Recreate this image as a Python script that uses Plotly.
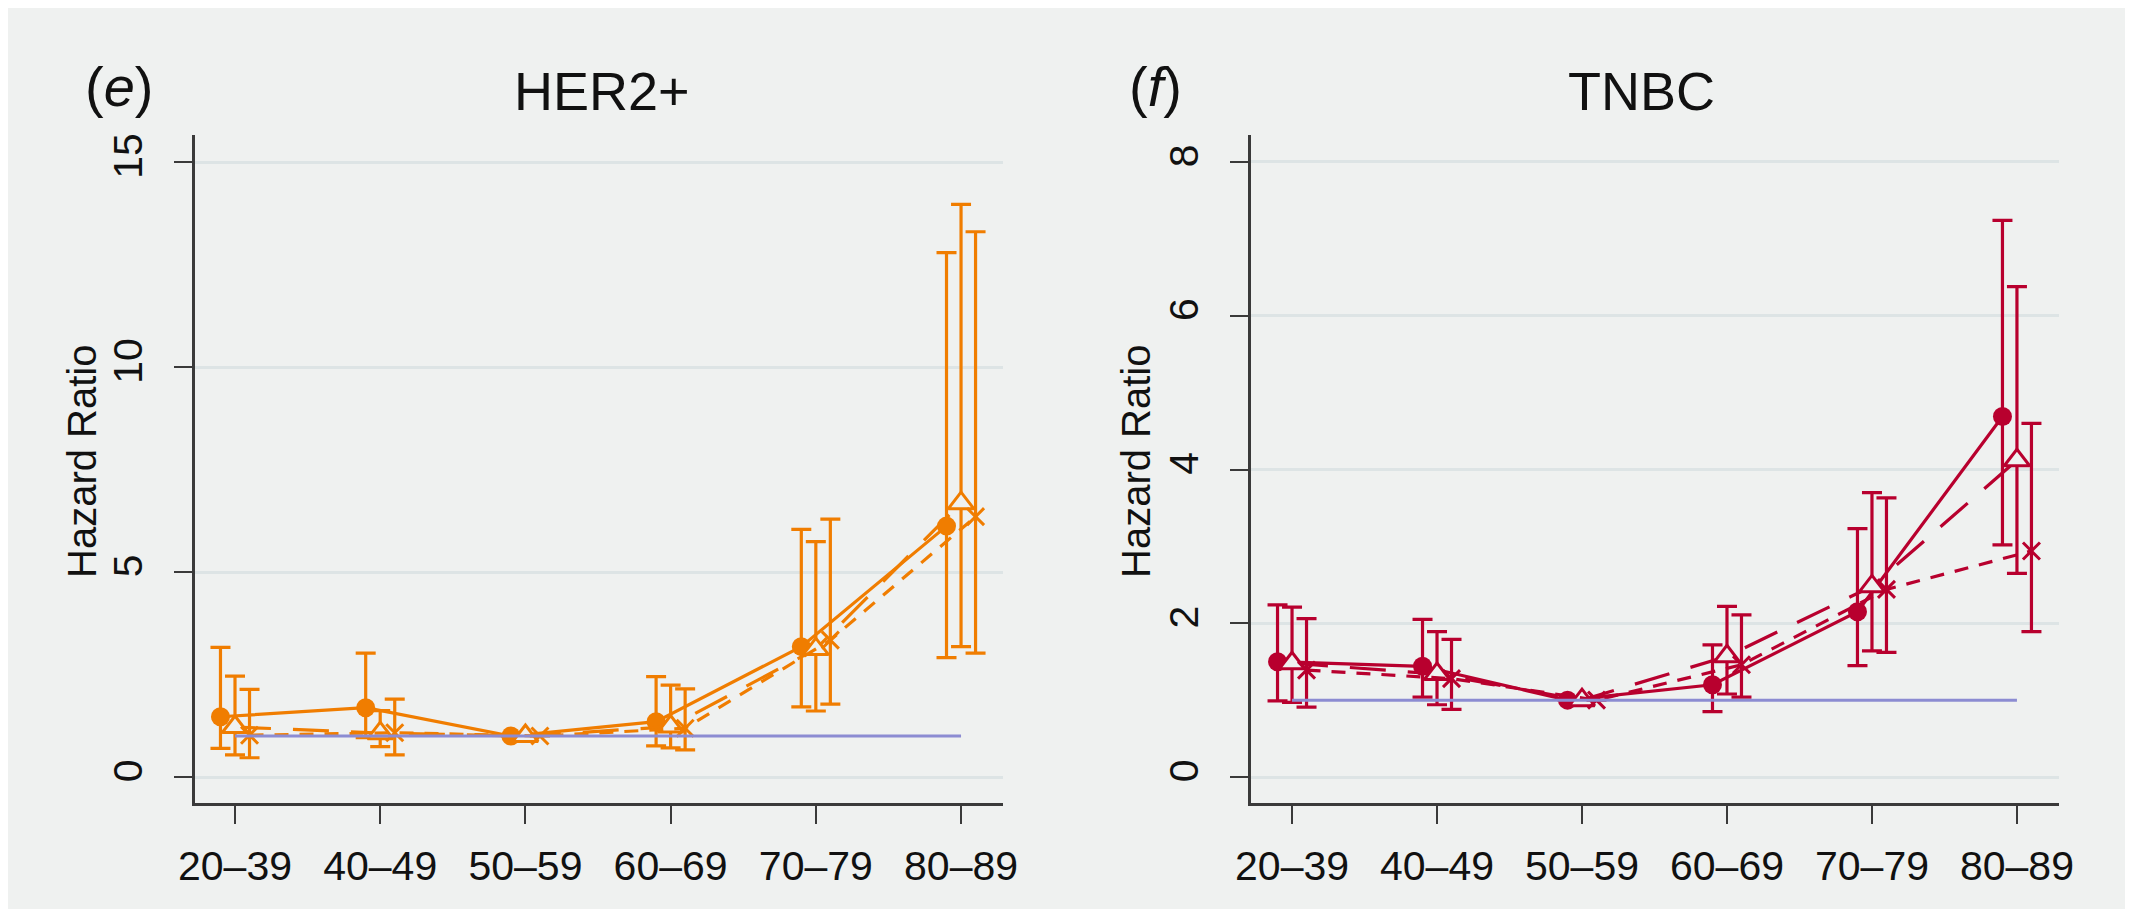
import plotly.graph_objects as go

W, H = 2133, 909
OFF_X, OFF_Y = 8, 8  # page body margin offset

# ---------------- data ----------------
age_groups = ["20–39", "40–49", "50–59", "60–69", "70–79", "80–89"]

# HER2+ panel (e)
her2_a_hr = [1.47, 1.69, 1.00, 1.35, 3.18, 6.12]
her2_a_lo = [0.70, 0.96, 1.00, 0.76, 1.71, 2.91]
her2_a_hi = [3.16, 3.02, 1.00, 2.45, 6.04, 12.79]
her2_b_hr = [1.22, 1.07, 1.00, 1.23, 3.12, 6.68]
her2_b_lo = [0.54, 0.74, 1.00, 0.71, 1.61, 3.18]
her2_b_hi = [2.46, 1.62, 1.00, 2.24, 5.74, 13.97]
her2_c_hr = [1.02, 1.08, 1.00, 1.19, 3.34, 6.35]
her2_c_lo = [0.47, 0.54, 1.00, 0.66, 1.78, 3.02]
her2_c_hi = [2.14, 1.90, 1.00, 2.15, 6.29, 13.30]

# TNBC panel (f)
tnbc_a_hr = [1.50, 1.44, 1.00, 1.20, 2.15, 4.69]
tnbc_a_lo = [0.99, 1.04, 1.00, 0.85, 1.45, 3.02]
tnbc_a_hi = [2.24, 2.05, 1.00, 1.72, 3.23, 7.24]
tnbc_b_hr = [1.48, 1.34, 1.00, 1.57, 2.48, 4.12]
tnbc_b_lo = [0.97, 0.94, 1.00, 1.08, 1.64, 2.65]
tnbc_b_hi = [2.21, 1.89, 1.00, 2.22, 3.70, 6.38]
tnbc_c_hr = [1.39, 1.28, 1.00, 1.46, 2.44, 2.94]
tnbc_c_lo = [0.91, 0.88, 1.00, 1.04, 1.62, 1.89]
tnbc_c_hi = [2.06, 1.79, 1.00, 2.11, 3.63, 4.60]

reference_hr = [1.0, 1.0]

her2_yticks = [0, 5, 10, 15]
tnbc_yticks = [0, 2, 4, 6, 8]

# ---------------- style ----------------
BG = "#eff1f0"
GRID = "#dde4e5"
AXIS = "#3a3a3a"
ORANGE = "#f07d00"
CRIMSON = "#b8002e"
REFCOL = "#8c8cd2"
FONT = "Liberation Sans, Arial, Helvetica, sans-serif"

fig = go.Figure()

def px_x(p):
    return (p - OFF_X) / W

def px_y(p):
    return 1 - (p - OFF_Y) / H

series_style = [
    dict(offset=-0.1, dash="solid", symbol="circle", size=19),
    dict(offset=0.0, dash="36px,22px", symbol="triangle-up", size=22),
    dict(offset=0.1, dash="14px,11px", symbol="x-thin", size=17),
]

panels = [
    dict(xa="x", ya="y", color=ORANGE,
         data=[(her2_a_hr, her2_a_lo, her2_a_hi),
               (her2_b_hr, her2_b_lo, her2_b_hi),
               (her2_c_hr, her2_c_lo, her2_c_hi)]),
    dict(xa="x2", ya="y2", color=CRIMSON,
         data=[(tnbc_a_hr, tnbc_a_lo, tnbc_a_hi),
               (tnbc_b_hr, tnbc_b_lo, tnbc_b_hi),
               (tnbc_c_hr, tnbc_c_lo, tnbc_c_hi)]),
]

for p in panels:
    col = p["color"]
    for (hr, lo, hi), st in zip(p["data"], series_style):
        xs = [i + st["offset"] for i in range(len(age_groups))]
        if st["symbol"] == "circle":
            marker = dict(symbol="circle", size=st["size"], color=col,
                          line=dict(width=0))
        elif st["symbol"] == "triangle-up":
            marker = dict(symbol="triangle-up", size=st["size"], color=BG,
                          line=dict(color=col, width=3))
        else:
            marker = dict(symbol="x-thin", size=st["size"], color=col,
                          line=dict(color=col, width=3))
        fig.add_trace(go.Scatter(
            x=xs, y=hr, mode="lines+markers",
            xaxis=p["xa"], yaxis=p["ya"],
            line=dict(color=col, width=3.2, dash=st["dash"]),
            marker=marker,
            error_y=dict(type="data", symmetric=False,
                         array=[h - v for h, v in zip(hi, hr)],
                         arrayminus=[v - l for v, l in zip(hr, lo)],
                         color=col, thickness=3.2, width=10),
            showlegend=False, hoverinfo="skip",
        ))
    fig.add_trace(go.Scatter(
        x=[0, len(age_groups) - 1], y=reference_hr, mode="lines",
        xaxis=p["xa"], yaxis=p["ya"],
        line=dict(color=REFCOL, width=3),
        showlegend=False, hoverinfo="skip",
    ))

common_x = dict(
    tickmode="array", tickvals=list(range(len(age_groups))), ticktext=age_groups,
    showgrid=False, zeroline=False, showline=True, linecolor=AXIS, linewidth=3,
    ticks="outside", ticklen=18, tickwidth=2, tickcolor=AXIS,
    tickfont=dict(family=FONT, size=41, color="#111111"),
    ticklabelstandoff=7, automargin=False,
)
common_y = dict(
    tickmode="array", showgrid=True, gridcolor=GRID, gridwidth=3,
    zeroline=False, showline=True, linecolor=AXIS, linewidth=3,
    ticks="outside", ticklen=18, tickwidth=2, tickcolor=AXIS,
    tickangle=-90,
    tickfont=dict(family=FONT, size=41, color="#111111"),
    ticklabelstandoff=16, automargin=False,
)

ydom = [px_y(803), px_y(135)]

fig.update_layout(
    width=W, height=H,
    margin=dict(l=0, r=0, t=0, b=0, pad=0, autoexpand=False),
    paper_bgcolor=BG, plot_bgcolor=BG,
    xaxis=dict(domain=[px_x(195), px_x(1003)], range=[-0.2755, 5.289],
               anchor="y", **common_x),
    yaxis=dict(domain=ydom, range=[-0.634, 15.66], tickvals=her2_yticks,
               anchor="x", **common_y),
    xaxis2=dict(domain=[px_x(1251), px_x(2059)], range=[-0.283, 5.29],
                anchor="y2", **common_x),
    yaxis2=dict(domain=ydom, range=[-0.338, 8.351], tickvals=tnbc_yticks,
                anchor="x2", **common_y),
)

annotations = [
    dict(text="HER2+", x=px_x(602), y=px_y(91), size=54),
    dict(text="TNBC", x=px_x(1641), y=px_y(91), size=54),
    dict(text="(<i>e</i>)", x=px_x(119), y=px_y(86), size=56),
    dict(text="(<i>f</i>)", x=px_x(1155), y=px_y(86), size=56),
]
for a in annotations:
    fig.add_annotation(text=a["text"], x=a["x"], y=a["y"], xref="paper", yref="paper",
                       xanchor="center", yanchor="middle", showarrow=False,
                       font=dict(family=FONT, size=a["size"], color="#111111"))

for xc in (82, 1136):
    fig.add_annotation(text="Hazard Ratio", x=px_x(xc), y=px_y(462),
                       xref="paper", yref="paper", textangle=-90,
                       xanchor="center", yanchor="middle", showarrow=False,
                       font=dict(family=FONT, size=40, color="#111111"))

fig.write_html("out.html")
